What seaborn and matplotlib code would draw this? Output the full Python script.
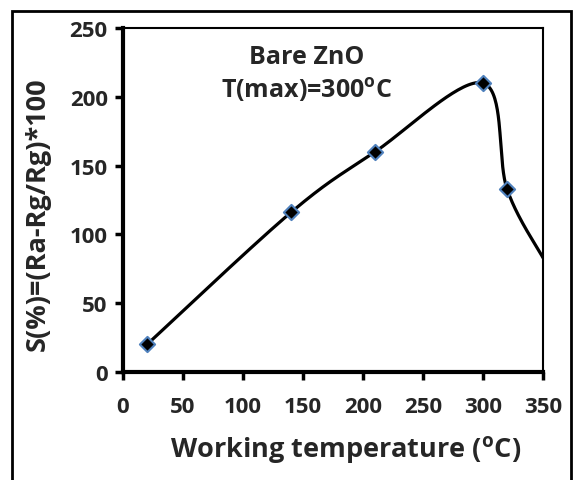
import numpy as np
import pandas as pd
import matplotlib
matplotlib.use("Agg")
import matplotlib.pyplot as plt
import seaborn as sns
from matplotlib.patches import Rectangle

# data
temperature = [20, 140, 210, 300, 320, 350]
sensitivity = [20, 116, 160, 210, 133, 83]
n_markers = 5  # last point is where the curve leaves the plot (no marker)
x_ticks = [0, 50, 100, 150, 200, 250, 300, 350]
y_ticks = [0, 50, 100, 150, 200, 250]
annot_lines = ["Bare ZnO", r"T(max)=300$\mathbf{^o}$C"]

FONT = 'Open Sans'
sns.set_theme(style="white")
plt.rcParams['font.family'] = [FONT, 'DejaVu Sans']
plt.rcParams['font.weight'] = 'bold'
plt.rcParams['mathtext.fontset'] = 'custom'
plt.rcParams['mathtext.rm'] = FONT + ':bold'
plt.rcParams['mathtext.bf'] = FONT + ':bold'
plt.rcParams['mathtext.it'] = FONT + ':bold'

def smooth(xs, ys, n=40):
    # Excel-like smoothed line: cubic Bezier with Catmull-Rom control points
    P = np.column_stack([xs, ys]).astype(float)
    ext = np.vstack([P[0], P, P[-1]])
    out = []
    t = np.linspace(0, 1, n)[:, None]
    for i in range(len(P) - 1):
        p0, p1, p2, p3 = ext[i], ext[i + 1], ext[i + 2], ext[i + 3]
        c1 = p1 + (p2 - p0) / 6.0
        c2 = p2 - (p3 - p1) / 6.0
        seg = ((1 - t) ** 3) * p1 + 3 * ((1 - t) ** 2) * t * c1 + 3 * (1 - t) * t ** 2 * c2 + t ** 3 * p2
        out.append(seg if i == 0 else seg[1:])
    out = np.vstack(out)
    return out[:, 0], out[:, 1]

sx, sy = smooth(temperature, sensitivity)
curve = pd.DataFrame({"x": sx, "y": sy})
pts = pd.DataFrame({"x": temperature[:n_markers], "y": sensitivity[:n_markers]})

fig = plt.figure(figsize=(5.76, 4.81), dpi=100)
fig.patch.set_facecolor("white")
fig.patches.append(Rectangle((12 / 576, -0.05), 559 / 576, 1 - 12 / 481 + 0.05,
                             transform=fig.transFigure, fill=False,
                             edgecolor="black", linewidth=2.0, zorder=0))
ax = fig.add_axes([123 / 576, 1 - 373 / 481, 420 / 576, 344 / 481])

sns.lineplot(data=curve, x="x", y="y", sort=False, color="black", linewidth=2.3,
             ax=ax, clip_on=True)
sns.scatterplot(data=pts, x="x", y="y", marker="D", s=60, color="black",
                edgecolor="#4F81BD", linewidth=1.5, ax=ax, zorder=5, clip_on=False)

ax.set_xlim(0, 350)
ax.set_ylim(0, 250)
ax.set_xticks(x_ticks)
ax.set_yticks(y_ticks)
ax.set_xticklabels([str(v) for v in x_ticks], fontsize=16, fontweight="bold")
ax.set_yticklabels([str(v) for v in y_ticks], fontsize=16, fontweight="bold")
ax.tick_params(axis="both", direction="out", length=6, width=2.5, color="black",
               bottom=True, left=True)
ax.tick_params(axis="x", pad=11)
ax.tick_params(axis="y", pad=5)
ax.set_xlabel(r"Working temperature ($\mathbf{^o}$C)", fontsize=19.5, fontweight="bold")
ax.set_ylabel("S(%)=(Ra-Rg/Rg)*100", fontsize=19.5, fontweight="bold")
ax.xaxis.label.set_va("center")
ax.yaxis.label.set_va("center")
ax.xaxis.set_label_coords((346 - 123) / 420, (373 - 450) / 344)
ax.yaxis.set_label_coords((38 - 123) / 420, (373 - 214) / 344)

for side in ["left", "bottom"]:
    ax.spines[side].set_linewidth(3.0)
    ax.spines[side].set_color("black")
for side in ["top", "right"]:
    ax.spines[side].set_linewidth(1.5)
    ax.spines[side].set_color("black")

ax.text(153, 229, annot_lines[0], fontsize=18, fontweight="bold", ha="center", va="center")
ax.text(153, 206, annot_lines[1], fontsize=18, fontweight="bold", ha="center", va="center")

fig.savefig("out.png", dpi=100, facecolor="white")
